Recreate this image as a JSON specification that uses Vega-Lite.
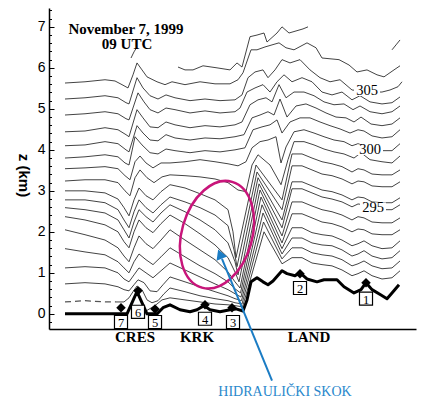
{
"$schema": "https://vega.github.io/schema/vega-lite/v6.json",
"width": 367, "height": 321,
"autosize": "none",
"padding": {"left": 49, "top": 8, "right": 32, "bottom": 70},
"background": "white",
"config": {"view": {"stroke": null}},
"datasets": {
"isen": [
{"id":"F1","x":82,"z":6.24},{"id":"F1","x":85,"z":6.39},{"id":"F1","x":88,"z":6.51},
{"id":"F2","x":343,"z":6.44},{"id":"F2","x":347,"z":6.56},{"id":"F2","x":351,"z":6.68},
{"id":"T0","x":129,"z":6.02},{"id":"T0","x":136,"z":5.95},{"id":"T0","x":144,"z":5.95},{"id":"T0","x":154,"z":6.05},{"id":"T0","x":168,"z":6.00},{"id":"T0","x":181,"z":5.95},{"id":"T0","x":188,"z":6.12},{"id":"T0","x":193,"z":6.02},{"id":"T0","x":201,"z":6.76},{"id":"T0","x":208,"z":6.80},{"id":"T0","x":215,"z":6.85},{"id":"T0","x":218,"z":6.63},{"id":"T0","x":228,"z":6.85},{"id":"T0","x":233,"z":7.00},{"id":"T0","x":240,"z":6.85},{"id":"T0","x":247,"z":6.90},{"id":"T0","x":254,"z":6.95},{"id":"T0","x":259,"z":7.00},
{"id":"L1","x":16,"z":5.63},{"id":"L1","x":36,"z":5.66},{"id":"L1","x":56,"z":5.71},{"id":"L1","x":66,"z":5.68},{"id":"L1","x":73,"z":5.59},{"id":"L1","x":79,"z":5.51},{"id":"L1","x":84,"z":5.83},{"id":"L1","x":88,"z":6.12},{"id":"L1","x":93,"z":5.95},{"id":"L1","x":98,"z":5.78},{"id":"L1","x":108,"z":5.66},{"id":"L1","x":116,"z":5.59},{"id":"L1","x":123,"z":5.66},{"id":"L1","x":136,"z":5.59},{"id":"L1","x":151,"z":5.66},{"id":"L1","x":166,"z":5.61},{"id":"L1","x":181,"z":5.61},{"id":"L1","x":189,"z":5.71},{"id":"L1","x":194,"z":5.88},{"id":"L1","x":202,"z":6.44},{"id":"L1","x":208,"z":6.44},{"id":"L1","x":216,"z":6.51},{"id":"L1","x":223,"z":6.56},{"id":"L1","x":230,"z":6.61},{"id":"L1","x":237,"z":6.49},{"id":"L1","x":245,"z":6.44},{"id":"L1","x":258,"z":6.61},{"id":"L1","x":267,"z":6.49},{"id":"L1","x":273,"z":6.24},{"id":"L1","x":290,"z":6.20},{"id":"L1","x":300,"z":6.07},{"id":"L1","x":308,"z":5.90},{"id":"L1","x":318,"z":5.95},{"id":"L1","x":328,"z":5.83},{"id":"L1","x":335,"z":5.78},{"id":"L1","x":345,"z":5.95},{"id":"L1","x":351,"z":6.05},
{"id":"L2","x":16,"z":5.24},{"id":"L2","x":36,"z":5.27},{"id":"L2","x":56,"z":5.32},{"id":"L2","x":69,"z":5.27},{"id":"L2","x":77,"z":5.15},{"id":"L2","x":80,"z":5.12},{"id":"L2","x":88,"z":5.76},{"id":"L2","x":94,"z":5.51},{"id":"L2","x":101,"z":5.32},{"id":"L2","x":109,"z":5.24},{"id":"L2","x":117,"z":5.34},{"id":"L2","x":126,"z":5.27},{"id":"L2","x":141,"z":5.20},{"id":"L2","x":156,"z":5.24},{"id":"L2","x":171,"z":5.20},{"id":"L2","x":186,"z":5.22},{"id":"L2","x":193,"z":5.34},{"id":"L2","x":199,"z":5.76},{"id":"L2","x":206,"z":5.90},{"id":"L2","x":214,"z":5.95},{"id":"L2","x":219,"z":5.76},{"id":"L2","x":226,"z":5.95},{"id":"L2","x":233,"z":6.20},{"id":"L2","x":241,"z":6.12},{"id":"L2","x":251,"z":6.20},{"id":"L2","x":261,"z":5.95},{"id":"L2","x":271,"z":5.76},{"id":"L2","x":281,"z":5.66},{"id":"L2","x":291,"z":5.71},{"id":"L2","x":303,"z":5.46},{"id":"L2","x":311,"z":5.44},{"id":"L2","x":323,"z":5.41},{"id":"L2","x":333,"z":5.41},{"id":"L2","x":341,"z":5.46},{"id":"L2","x":349,"z":5.54},{"id":"L2","x":353,"z":5.66},
{"id":"L3","x":16,"z":4.85},{"id":"L3","x":36,"z":4.88},{"id":"L3","x":56,"z":4.93},{"id":"L3","x":69,"z":4.88},{"id":"L3","x":77,"z":4.76},{"id":"L3","x":80,"z":4.73},{"id":"L3","x":89,"z":5.39},{"id":"L3","x":95,"z":5.17},{"id":"L3","x":101,"z":4.98},{"id":"L3","x":109,"z":4.90},{"id":"L3","x":117,"z":5.02},{"id":"L3","x":126,"z":4.98},{"id":"L3","x":141,"z":4.90},{"id":"L3","x":156,"z":4.95},{"id":"L3","x":171,"z":4.90},{"id":"L3","x":186,"z":4.93},{"id":"L3","x":191,"z":5.02},{"id":"L3","x":198,"z":5.41},{"id":"L3","x":206,"z":5.51},{"id":"L3","x":214,"z":5.59},{"id":"L3","x":221,"z":5.41},{"id":"L3","x":228,"z":5.66},{"id":"L3","x":235,"z":5.83},{"id":"L3","x":243,"z":5.66},{"id":"L3","x":253,"z":5.76},{"id":"L3","x":263,"z":5.66},{"id":"L3","x":273,"z":5.41},{"id":"L3","x":283,"z":5.34},{"id":"L3","x":293,"z":5.41},{"id":"L3","x":303,"z":5.22},{"id":"L3","x":311,"z":5.32},{"id":"L3","x":321,"z":5.17},{"id":"L3","x":333,"z":5.12},{"id":"L3","x":343,"z":5.15},{"id":"L3","x":351,"z":5.29},
{"id":"L4","x":16,"z":4.44},{"id":"L4","x":36,"z":4.46},{"id":"L4","x":56,"z":4.54},{"id":"L4","x":69,"z":4.49},{"id":"L4","x":77,"z":4.37},{"id":"L4","x":80,"z":4.32},{"id":"L4","x":88,"z":4.98},{"id":"L4","x":94,"z":4.78},{"id":"L4","x":101,"z":4.56},{"id":"L4","x":109,"z":4.54},{"id":"L4","x":117,"z":4.68},{"id":"L4","x":126,"z":4.61},{"id":"L4","x":141,"z":4.54},{"id":"L4","x":156,"z":4.59},{"id":"L4","x":171,"z":4.56},{"id":"L4","x":186,"z":4.61},{"id":"L4","x":193,"z":4.68},{"id":"L4","x":201,"z":5.10},{"id":"L4","x":209,"z":5.22},{"id":"L4","x":217,"z":5.27},{"id":"L4","x":223,"z":5.17},{"id":"L4","x":230,"z":5.59},{"id":"L4","x":237,"z":5.27},{"id":"L4","x":245,"z":5.41},{"id":"L4","x":255,"z":5.41},{"id":"L4","x":265,"z":5.32},{"id":"L4","x":275,"z":5.17},{"id":"L4","x":285,"z":5.10},{"id":"L4","x":295,"z":5.12},{"id":"L4","x":304,"z":4.98},{"id":"L4","x":311,"z":5.07},{"id":"L4","x":321,"z":4.93},{"id":"L4","x":333,"z":4.88},{"id":"L4","x":343,"z":4.93},{"id":"L4","x":351,"z":5.07},
{"id":"L5","x":16,"z":4.10},{"id":"L5","x":36,"z":4.12},{"id":"L5","x":56,"z":4.20},{"id":"L5","x":69,"z":4.15},{"id":"L5","x":77,"z":4.00},{"id":"L5","x":80,"z":3.95},{"id":"L5","x":88,"z":4.59},{"id":"L5","x":94,"z":4.41},{"id":"L5","x":101,"z":4.24},{"id":"L5","x":109,"z":4.22},{"id":"L5","x":117,"z":4.37},{"id":"L5","x":126,"z":4.29},{"id":"L5","x":141,"z":4.24},{"id":"L5","x":156,"z":4.29},{"id":"L5","x":171,"z":4.27},{"id":"L5","x":186,"z":4.32},{"id":"L5","x":195,"z":4.37},{"id":"L5","x":203,"z":4.78},{"id":"L5","x":211,"z":4.85},{"id":"L5","x":219,"z":4.93},{"id":"L5","x":225,"z":4.85},{"id":"L5","x":231,"z":5.24},{"id":"L5","x":238,"z":4.80},{"id":"L5","x":247,"z":5.07},{"id":"L5","x":257,"z":5.12},{"id":"L5","x":267,"z":5.02},{"id":"L5","x":277,"z":4.90},{"id":"L5","x":287,"z":4.80},{"id":"L5","x":297,"z":4.78},{"id":"L5","x":305,"z":4.68},{"id":"L5","x":312,"z":4.80},{"id":"L5","x":322,"z":4.63},{"id":"L5","x":333,"z":4.59},{"id":"L5","x":343,"z":4.63},{"id":"L5","x":351,"z":4.78},
{"id":"L6","x":16,"z":3.80},{"id":"L6","x":36,"z":3.83},{"id":"L6","x":56,"z":3.88},{"id":"L6","x":69,"z":3.83},{"id":"L6","x":76,"z":3.68},{"id":"L6","x":80,"z":3.63},{"id":"L6","x":86,"z":4.32},{"id":"L6","x":93,"z":4.12},{"id":"L6","x":101,"z":3.93},{"id":"L6","x":109,"z":3.90},{"id":"L6","x":117,"z":4.02},{"id":"L6","x":126,"z":3.98},{"id":"L6","x":141,"z":3.93},{"id":"L6","x":156,"z":3.98},{"id":"L6","x":171,"z":3.95},{"id":"L6","x":186,"z":4.00},{"id":"L6","x":196,"z":4.05},{"id":"L6","x":204,"z":4.49},{"id":"L6","x":213,"z":4.56},{"id":"L6","x":221,"z":4.61},{"id":"L6","x":228,"z":4.73},{"id":"L6","x":233,"z":4.41},{"id":"L6","x":241,"z":4.68},{"id":"L6","x":251,"z":4.78},{"id":"L6","x":261,"z":4.78},{"id":"L6","x":271,"z":4.68},{"id":"L6","x":281,"z":4.59},{"id":"L6","x":291,"z":4.51},{"id":"L6","x":301,"z":4.41},{"id":"L6","x":309,"z":4.49},{"id":"L6","x":315,"z":4.46},{"id":"L6","x":323,"z":4.34},{"id":"L6","x":333,"z":4.29},{"id":"L6","x":343,"z":4.32},{"id":"L6","x":351,"z":4.49},
{"id":"L7","x":16,"z":3.54},{"id":"L7","x":36,"z":3.56},{"id":"L7","x":56,"z":3.59},{"id":"L7","x":69,"z":3.54},{"id":"L7","x":76,"z":3.37},{"id":"L7","x":81,"z":3.27},{"id":"L7","x":86,"z":3.71},{"id":"L7","x":91,"z":3.85},{"id":"L7","x":97,"z":3.68},{"id":"L7","x":104,"z":3.56},{"id":"L7","x":112,"z":3.68},{"id":"L7","x":121,"z":3.68},{"id":"L7","x":136,"z":3.71},{"id":"L7","x":151,"z":3.76},{"id":"L7","x":166,"z":3.71},{"id":"L7","x":179,"z":3.66},{"id":"L7","x":189,"z":3.61},{"id":"L7","x":197,"z":3.71},{"id":"L7","x":203,"z":4.05},{"id":"L7","x":211,"z":4.20},{"id":"L7","x":219,"z":4.24},{"id":"L7","x":227,"z":4.32},{"id":"L7","x":232,"z":3.68},{"id":"L7","x":237,"z":4.07},{"id":"L7","x":245,"z":4.44},{"id":"L7","x":255,"z":4.49},{"id":"L7","x":265,"z":4.41},{"id":"L7","x":275,"z":4.32},{"id":"L7","x":285,"z":4.24},{"id":"L7","x":295,"z":4.20},{"id":"L7","x":303,"z":4.10},{"id":"L7","x":309,"z":4.15},{"id":"L7","x":315,"z":4.10},{"id":"L7","x":323,"z":4.00},{"id":"L7","x":333,"z":3.98},{"id":"L7","x":343,"z":3.98},{"id":"L7","x":351,"z":4.15},
{"id":"L8","x":16,"z":3.24},{"id":"L8","x":36,"z":3.27},{"id":"L8","x":56,"z":3.27},{"id":"L8","x":69,"z":3.20},{"id":"L8","x":76,"z":3.00},{"id":"L8","x":81,"z":2.88},{"id":"L8","x":86,"z":3.32},{"id":"L8","x":91,"z":3.51},{"id":"L8","x":98,"z":3.32},{"id":"L8","x":105,"z":3.20},{"id":"L8","x":113,"z":3.34},{"id":"L8","x":121,"z":3.39},{"id":"L8","x":136,"z":3.37},{"id":"L8","x":151,"z":3.34},{"id":"L8","x":166,"z":3.29},{"id":"L8","x":179,"z":3.20},{"id":"L8","x":189,"z":3.02},{"id":"L8","x":197,"z":2.98},{"id":"L8","x":203,"z":3.63},{"id":"L8","x":209,"z":3.88},{"id":"L8","x":221,"z":3.63},{"id":"L8","x":232,"z":3.15},{"id":"L8","x":239,"z":3.76},{"id":"L8","x":245,"z":4.20},{"id":"L8","x":255,"z":4.20},{"id":"L8","x":265,"z":4.12},{"id":"L8","x":275,"z":4.02},{"id":"L8","x":285,"z":3.95},{"id":"L8","x":295,"z":3.90},{"id":"L8","x":305,"z":3.80},{"id":"L8","x":312,"z":3.93},{"id":"L8","x":321,"z":3.76},{"id":"L8","x":333,"z":3.71},{"id":"L8","x":343,"z":3.68},{"id":"L8","x":351,"z":3.85},
{"id":"L9","x":16,"z":3.00},{"id":"L9","x":36,"z":3.00},{"id":"L9","x":56,"z":2.95},{"id":"L9","x":69,"z":2.80},{"id":"L9","x":75,"z":2.59},{"id":"L9","x":80,"z":2.39},{"id":"L9","x":85,"z":2.78},{"id":"L9","x":90,"z":3.07},{"id":"L9","x":97,"z":2.88},{"id":"L9","x":104,"z":2.78},{"id":"L9","x":112,"z":2.98},{"id":"L9","x":121,"z":3.15},{"id":"L9","x":136,"z":3.07},{"id":"L9","x":151,"z":2.93},{"id":"L9","x":166,"z":2.78},{"id":"L9","x":179,"z":2.54},{"id":"L9","x":184,"z":2.00},{"id":"L9","x":187,"z":1.37},{"id":"L9","x":207,"z":3.63},{"id":"L9","x":233,"z":2.78},{"id":"L9","x":243,"z":3.90},{"id":"L9","x":253,"z":3.90},{"id":"L9","x":263,"z":3.80},{"id":"L9","x":273,"z":3.71},{"id":"L9","x":283,"z":3.66},{"id":"L9","x":293,"z":3.59},{"id":"L9","x":303,"z":3.46},{"id":"L9","x":309,"z":3.54},{"id":"L9","x":315,"z":3.51},{"id":"L9","x":323,"z":3.41},{"id":"L9","x":333,"z":3.39},{"id":"L9","x":343,"z":3.39},{"id":"L9","x":351,"z":3.51},
{"id":"L10","x":16,"z":2.78},{"id":"L10","x":36,"z":2.78},{"id":"L10","x":56,"z":2.71},{"id":"L10","x":69,"z":2.54},{"id":"L10","x":75,"z":2.29},{"id":"L10","x":80,"z":2.10},{"id":"L10","x":85,"z":2.49},{"id":"L10","x":90,"z":2.78},{"id":"L10","x":97,"z":2.59},{"id":"L10","x":104,"z":2.46},{"id":"L10","x":112,"z":2.66},{"id":"L10","x":121,"z":2.85},{"id":"L10","x":136,"z":2.73},{"id":"L10","x":151,"z":2.59},{"id":"L10","x":166,"z":2.41},{"id":"L10","x":179,"z":2.15},{"id":"L10","x":185,"z":1.56},{"id":"L10","x":188,"z":1.15},{"id":"L10","x":208,"z":3.46},{"id":"L10","x":233,"z":2.54},{"id":"L10","x":243,"z":3.61},{"id":"L10","x":253,"z":3.61},{"id":"L10","x":263,"z":3.51},{"id":"L10","x":273,"z":3.41},{"id":"L10","x":283,"z":3.37},{"id":"L10","x":293,"z":3.29},{"id":"L10","x":303,"z":3.17},{"id":"L10","x":309,"z":3.24},{"id":"L10","x":315,"z":3.22},{"id":"L10","x":323,"z":3.12},{"id":"L10","x":333,"z":3.10},{"id":"L10","x":343,"z":3.10},{"id":"L10","x":351,"z":3.22},
{"id":"L11","x":16,"z":2.59},{"id":"L11","x":36,"z":2.54},{"id":"L11","x":56,"z":2.46},{"id":"L11","x":69,"z":2.29},{"id":"L11","x":75,"z":2.05},{"id":"L11","x":80,"z":1.85},{"id":"L11","x":85,"z":2.24},{"id":"L11","x":90,"z":2.54},{"id":"L11","x":97,"z":2.37},{"id":"L11","x":104,"z":2.24},{"id":"L11","x":112,"z":2.46},{"id":"L11","x":121,"z":2.66},{"id":"L11","x":136,"z":2.49},{"id":"L11","x":151,"z":2.29},{"id":"L11","x":166,"z":2.05},{"id":"L11","x":179,"z":1.73},{"id":"L11","x":186,"z":1.27},{"id":"L11","x":189,"z":0.95},{"id":"L11","x":209,"z":3.32},{"id":"L11","x":233,"z":2.29},{"id":"L11","x":243,"z":3.22},{"id":"L11","x":253,"z":3.22},{"id":"L11","x":263,"z":3.12},{"id":"L11","x":273,"z":3.02},{"id":"L11","x":283,"z":2.98},{"id":"L11","x":293,"z":2.90},{"id":"L11","x":303,"z":2.78},{"id":"L11","x":309,"z":2.85},{"id":"L11","x":315,"z":2.83},{"id":"L11","x":323,"z":2.73},{"id":"L11","x":333,"z":2.71},{"id":"L11","x":343,"z":2.71},{"id":"L11","x":351,"z":2.83},
{"id":"L12","x":16,"z":2.37},{"id":"L12","x":36,"z":2.29},{"id":"L12","x":56,"z":2.17},{"id":"L12","x":69,"z":2.00},{"id":"L12","x":75,"z":1.76},{"id":"L12","x":80,"z":1.61},{"id":"L12","x":85,"z":2.00},{"id":"L12","x":90,"z":2.29},{"id":"L12","x":97,"z":2.10},{"id":"L12","x":104,"z":1.98},{"id":"L12","x":112,"z":2.20},{"id":"L12","x":121,"z":2.41},{"id":"L12","x":136,"z":2.20},{"id":"L12","x":151,"z":1.95},{"id":"L12","x":166,"z":1.68},{"id":"L12","x":179,"z":1.37},{"id":"L12","x":186,"z":1.02},{"id":"L12","x":190,"z":0.78},{"id":"L12","x":210,"z":3.17},{"id":"L12","x":233,"z":2.10},{"id":"L12","x":243,"z":3.05},{"id":"L12","x":253,"z":3.05},{"id":"L12","x":263,"z":2.95},{"id":"L12","x":273,"z":2.85},{"id":"L12","x":283,"z":2.80},{"id":"L12","x":293,"z":2.73},{"id":"L12","x":303,"z":2.61},{"id":"L12","x":309,"z":2.68},{"id":"L12","x":315,"z":2.66},{"id":"L12","x":323,"z":2.56},{"id":"L12","x":333,"z":2.54},{"id":"L12","x":343,"z":2.54},{"id":"L12","x":351,"z":2.66},
{"id":"L13","x":16,"z":2.05},{"id":"L13","x":36,"z":1.93},{"id":"L13","x":56,"z":1.80},{"id":"L13","x":69,"z":1.61},{"id":"L13","x":75,"z":1.41},{"id":"L13","x":80,"z":1.27},{"id":"L13","x":85,"z":1.61},{"id":"L13","x":90,"z":1.90},{"id":"L13","x":97,"z":1.71},{"id":"L13","x":104,"z":1.59},{"id":"L13","x":112,"z":1.80},{"id":"L13","x":121,"z":2.05},{"id":"L13","x":136,"z":1.80},{"id":"L13","x":151,"z":1.56},{"id":"L13","x":166,"z":1.32},{"id":"L13","x":179,"z":1.02},{"id":"L13","x":186,"z":0.78},{"id":"L13","x":191,"z":0.63},{"id":"L13","x":211,"z":3.02},{"id":"L13","x":233,"z":1.90},{"id":"L13","x":243,"z":2.73},{"id":"L13","x":253,"z":2.73},{"id":"L13","x":263,"z":2.63},{"id":"L13","x":273,"z":2.54},{"id":"L13","x":283,"z":2.49},{"id":"L13","x":293,"z":2.41},{"id":"L13","x":303,"z":2.29},{"id":"L13","x":309,"z":2.37},{"id":"L13","x":315,"z":2.34},{"id":"L13","x":323,"z":2.24},{"id":"L13","x":333,"z":2.22},{"id":"L13","x":343,"z":2.22},{"id":"L13","x":351,"z":2.34},
{"id":"L14","x":16,"z":1.59},{"id":"L14","x":36,"z":1.51},{"id":"L14","x":56,"z":1.44},{"id":"L14","x":69,"z":1.27},{"id":"L14","x":75,"z":1.12},{"id":"L14","x":80,"z":1.00},{"id":"L14","x":85,"z":1.27},{"id":"L14","x":90,"z":1.46},{"id":"L14","x":97,"z":1.32},{"id":"L14","x":104,"z":1.20},{"id":"L14","x":112,"z":1.39},{"id":"L14","x":121,"z":1.61},{"id":"L14","x":136,"z":1.39},{"id":"L14","x":151,"z":1.17},{"id":"L14","x":166,"z":0.98},{"id":"L14","x":179,"z":0.78},{"id":"L14","x":186,"z":0.61},{"id":"L14","x":191.5,"z":0.51},{"id":"L14","x":212,"z":2.85},{"id":"L14","x":233,"z":1.73},{"id":"L14","x":243,"z":2.44},{"id":"L14","x":253,"z":2.44},{"id":"L14","x":263,"z":2.34},{"id":"L14","x":273,"z":2.24},{"id":"L14","x":283,"z":2.20},{"id":"L14","x":293,"z":2.12},{"id":"L14","x":303,"z":2.00},{"id":"L14","x":309,"z":2.07},{"id":"L14","x":315,"z":2.05},{"id":"L14","x":323,"z":1.95},{"id":"L14","x":333,"z":1.93},{"id":"L14","x":343,"z":1.93},{"id":"L14","x":351,"z":2.05},
{"id":"L15","x":16,"z":1.12},{"id":"L15","x":36,"z":1.15},{"id":"L15","x":56,"z":1.12},{"id":"L15","x":69,"z":1.00},{"id":"L15","x":75,"z":0.85},{"id":"L15","x":80,"z":0.78},{"id":"L15","x":85,"z":0.95},{"id":"L15","x":90,"z":1.12},{"id":"L15","x":97,"z":1.00},{"id":"L15","x":104,"z":0.88},{"id":"L15","x":112,"z":1.05},{"id":"L15","x":121,"z":1.24},{"id":"L15","x":136,"z":1.07},{"id":"L15","x":151,"z":0.90},{"id":"L15","x":166,"z":0.73},{"id":"L15","x":179,"z":0.59},{"id":"L15","x":186,"z":0.49},{"id":"L15","x":192,"z":0.41},{"id":"L15","x":213,"z":2.66},{"id":"L15","x":233,"z":1.59},{"id":"L15","x":243,"z":2.10},{"id":"L15","x":253,"z":2.10},{"id":"L15","x":263,"z":1.98},{"id":"L15","x":273,"z":1.93},{"id":"L15","x":283,"z":1.90},{"id":"L15","x":293,"z":1.80},{"id":"L15","x":303,"z":1.66},{"id":"L15","x":309,"z":1.71},{"id":"L15","x":315,"z":1.78},{"id":"L15","x":323,"z":1.66},{"id":"L15","x":333,"z":1.59},{"id":"L15","x":343,"z":1.61},{"id":"L15","x":351,"z":1.78},
{"id":"L16","x":16,"z":0.73},{"id":"L16","x":36,"z":0.76},{"id":"L16","x":56,"z":0.73},{"id":"L16","x":69,"z":0.66},{"id":"L16","x":75,"z":0.59},{"id":"L16","x":80,"z":0.56},{"id":"L16","x":85,"z":0.71},{"id":"L16","x":89,"z":0.83},{"id":"L16","x":95,"z":0.76},{"id":"L16","x":101,"z":0.56},{"id":"L16","x":108,"z":0.54},{"id":"L16","x":114,"z":0.71},{"id":"L16","x":121,"z":0.90},{"id":"L16","x":136,"z":0.78},{"id":"L16","x":151,"z":0.66},{"id":"L16","x":166,"z":0.54},{"id":"L16","x":179,"z":0.44},{"id":"L16","x":186,"z":0.37},{"id":"L16","x":192.5,"z":0.32},{"id":"L16","x":214,"z":2.46},{"id":"L16","x":233,"z":1.46},{"id":"L16","x":243,"z":1.85},{"id":"L16","x":253,"z":1.85},{"id":"L16","x":263,"z":1.73},{"id":"L16","x":273,"z":1.68},{"id":"L16","x":283,"z":1.66},{"id":"L16","x":293,"z":1.56},{"id":"L16","x":303,"z":1.41},{"id":"L16","x":309,"z":1.46},{"id":"L16","x":315,"z":1.54},{"id":"L16","x":323,"z":1.41},{"id":"L16","x":333,"z":1.34},{"id":"L16","x":343,"z":1.37},{"id":"L16","x":351,"z":1.54},
{"id":"L17","x":67,"z":0.29},{"id":"L17","x":75,"z":0.29},{"id":"L17","x":80,"z":0.39},{"id":"L17","x":84,"z":0.54},{"id":"L17","x":88,"z":0.68},{"id":"L17","x":93,"z":0.59},{"id":"L17","x":98,"z":0.34},{"id":"L17","x":103,"z":0.27},{"id":"L17","x":109,"z":0.32},{"id":"L17","x":115,"z":0.49},{"id":"L17","x":121,"z":0.63},{"id":"L17","x":136,"z":0.54},{"id":"L17","x":151,"z":0.44},{"id":"L17","x":166,"z":0.37},{"id":"L17","x":179,"z":0.32},{"id":"L17","x":186,"z":0.27},{"id":"L17","x":193,"z":0.24},{"id":"L17","x":214.5,"z":2.24},{"id":"L17","x":233,"z":1.34},{"id":"L17","x":243,"z":1.61},{"id":"L17","x":253,"z":1.61},{"id":"L17","x":263,"z":1.49},{"id":"L17","x":273,"z":1.44},{"id":"L17","x":283,"z":1.41},{"id":"L17","x":293,"z":1.32},{"id":"L17","x":303,"z":1.17},{"id":"L17","x":309,"z":1.22},{"id":"L17","x":315,"z":1.29},{"id":"L17","x":323,"z":1.17},{"id":"L17","x":333,"z":1.10},{"id":"L17","x":343,"z":1.12},{"id":"L17","x":351,"z":1.29},
{"id":"E1","x":97,"z":0.07},{"id":"E1","x":106,"z":0.20},{"id":"E1","x":113,"z":0.34},{"id":"E1","x":121,"z":0.39},{"id":"E1","x":136,"z":0.34},{"id":"E1","x":151,"z":0.29},{"id":"E1","x":166,"z":0.24},{"id":"E1","x":179,"z":0.22},{"id":"E1","x":186,"z":0.20},{"id":"E1","x":193.5,"z":0.17},{"id":"E1","x":215,"z":2.00},{"id":"E1","x":233,"z":1.22},{"id":"E1","x":243,"z":1.37},{"id":"E1","x":253,"z":1.37},{"id":"E1","x":263,"z":1.24},{"id":"E1","x":273,"z":1.20},{"id":"E1","x":283,"z":1.17},{"id":"E1","x":293,"z":1.07},{"id":"E1","x":303,"z":0.93},{"id":"E1","x":309,"z":0.98},{"id":"E1","x":315,"z":1.05},{"id":"E1","x":323,"z":0.93},{"id":"E1","x":333,"z":0.85},{"id":"E1","x":343,"z":0.88},{"id":"E1","x":351,"z":1.05}
],
"isen_dashed": [{"x":16,"z":0.29},{"x":36,"z":0.32},{"x":56,"z":0.29},{"x":67,"z":0.29}],
"terrain": [
{"x":16,"z":0},{"x":78,"z":0},{"x":88,"z":0.54},{"x":98,"z":0},{"x":108,"z":0},{"x":114,"z":0.15},{"x":121,"z":0.22},{"x":131,"z":0.10},{"x":141,"z":0.05},{"x":148,"z":0.10},{"x":155,"z":0.20},{"x":161,"z":0.10},{"x":171,"z":0.05},{"x":181,"z":0.10},{"x":187,"z":0.12},{"x":194,"z":0.07},{"x":198,"z":0.34},{"x":202,"z":0.78},{"x":208,"z":0.88},{"x":214,"z":0.78},{"x":219,"z":0.71},{"x":224,"z":0.80},{"x":233,"z":1.05},{"x":238,"z":0.98},{"x":246,"z":0.93},{"x":251,"z":1.00},{"x":258,"z":0.85},{"x":268,"z":0.78},{"x":275,"z":0.83},{"x":288,"z":0.83},{"x":295,"z":0.66},{"x":305,"z":0.51},{"x":312,"z":0.59},{"x":317,"z":0.76},{"x":323,"z":0.59},{"x":332,"z":0.46},{"x":338,"z":0.37},{"x":343,"z":0.51},{"x":350,"z":0.71}
],
"theta": [{"x":318,"z":5.44,"label":"305"},{"x":321,"z":4.00,"label":"300"},{"x":324,"z":2.59,"label":"295"}],
"diamonds": [{"x":72,"z":0.15},{"x":89,"z":0.56},{"x":106,"z":0.12},{"x":156,"z":0.22},{"x":183,"z":0.15},{"x":251,"z":0.98},{"x":317,"z":0.76}],
"boxes": [{"x":72,"z":-0.20,"n":"7"},{"x":89,"z":0.05,"n":"6"},{"x":106,"z":-0.20,"n":"5"},{"x":156,"z":-0.12,"n":"4"},{"x":184,"z":-0.20,"n":"3"},{"x":251,"z":0.63,"n":"2"},{"x":317,"z":0.37,"n":"1"}],
"places": [{"x":86,"z":-0.56,"name":"CRES"},{"x":148,"z":-0.56,"name":"KRK"},{"x":260,"z":-0.56,"name":"LAND"}],
"heading": [{"x":77,"z":6.95,"t":"November 7, 1999"},{"x":78,"z":6.59,"t":"09 UTC"}],
"jump": [{"x":168,"z":1.93}],
"arrow": [{"x":223,"z":-1.63,"x2":173,"z2":1.34}],
"arrowhead": [{"x":171,"z":1.46}],
"note": [{"x":236,"z":-1.90,"t":"HIDRAULIČKI SKOK"}]
},
"encoding": {
"x": {"field": "x", "type": "quantitative", "scale": {"domain": [0, 367], "nice": false, "zero": false},
 "axis": {"title": null, "labels": false, "ticks": false, "grid": false, "domainColor": "black", "domainWidth": 1.5}},
"y": {"field": "z", "type": "quantitative", "scale": {"domain": [-0.37, 7.46], "nice": false, "zero": false},
 "axis": {"title": "z (km)", "grid": false,
  "values": [-0.2,0,0.2,0.4,0.6,0.8,1,1.2,1.4,1.6,1.8,2,2.2,2.4,2.6,2.8,3,3.2,3.4,3.6,3.8,4,4.2,4.4,4.6,4.8,5,5.2,5.4,5.6,5.8,6,6.2,6.4,6.6,6.8,7,7.2,7.4],
  "labelExpr": "abs(datum.value - round(datum.value)) < 0.01 ? format(datum.value, 'd') : ''",
  "labelOverlap": false,
  "tickSize": {"condition": {"test": "abs(datum.value - round(datum.value)) < 0.01", "value": -5}, "value": -2.5},
  "tickColor": "black", "tickWidth": 1,
  "domainColor": "black", "domainWidth": 1.5,
  "labelFont": "Liberation Sans", "labelFontSize": 14, "labelColor": "black", "labelPadding": 9,
  "titleFont": "Liberation Sans", "titleFontSize": 15, "titleFontWeight": "bold", "titleColor": "black",
  "titleAngle": 90, "titleX": -26, "titleY": 167, "titleAlign": "center", "titleBaseline": "middle"}}
},
"layer": [
{"data": {"name": "isen"}, "mark": {"type": "line", "stroke": "#2e2e2e", "strokeWidth": 0.9}, "encoding": {"detail": {"field": "id"}}},
{"data": {"name": "isen_dashed"}, "mark": {"type": "line", "stroke": "#555555", "strokeWidth": 1.2, "strokeDash": [6, 4]}, "encoding": {}},
{"data": {"name": "theta"}, "mark": {"type": "point", "shape": "M-1,-0.4L1,-0.4L1,0.4L-1,0.4Z", "size": 676, "filled": true, "fill": "white", "opacity": 1, "strokeWidth": 0}, "encoding": {}},
{"data": {"name": "theta"}, "mark": {"type": "text", "font": "Liberation Serif", "fontSize": 14.5, "fill": "black", "baseline": "middle"}, "encoding": {"text": {"field": "label"}}},
{"data": {"name": "terrain"}, "mark": {"type": "line", "stroke": "black", "strokeWidth": 3, "strokeJoin": "round"}, "encoding": {}},
{"data": {"name": "diamonds"}, "mark": {"type": "point", "shape": "diamond", "size": 90, "filled": true, "fill": "black", "opacity": 1}, "encoding": {}},
{"data": {"name": "boxes"}, "mark": {"type": "point", "shape": "square", "size": 170, "filled": true, "fill": "white", "stroke": "black", "strokeWidth": 1.2, "opacity": 1}, "encoding": {}},
{"data": {"name": "boxes"}, "mark": {"type": "text", "font": "Liberation Serif", "fontSize": 12.5, "fill": "black", "baseline": "middle", "dy": 1}, "encoding": {"text": {"field": "n"}}},
{"data": {"name": "places"}, "mark": {"type": "text", "font": "Liberation Serif", "fontSize": 15, "fontWeight": "bold", "fill": "black", "baseline": "middle"}, "encoding": {"text": {"field": "name"}}},
{"data": {"name": "heading"}, "mark": {"type": "text", "font": "Liberation Serif", "fontSize": 15, "fontWeight": "bold", "fill": "black", "baseline": "middle"}, "encoding": {"text": {"field": "t"}}},
{"data": {"name": "jump"}, "mark": {"type": "point", "shape": "M0,-1A0.64,1 0 1,1 0,1A0.64,1 0 1,1 0,-1Z", "size": 12100, "angle": 16, "filled": false, "stroke": "#c8157a", "strokeWidth": 2.5, "opacity": 1}, "encoding": {}},
{"data": {"name": "arrow"}, "mark": {"type": "rule", "stroke": "#1b7cc4", "strokeWidth": 2}, "encoding": {"x2": {"field": "x2"}, "y2": {"field": "z2"}}},
{"data": {"name": "arrowhead"}, "mark": {"type": "point", "shape": "triangle-up", "size": 130, "angle": -22, "filled": true, "fill": "#1b7cc4", "opacity": 1}, "encoding": {}},
{"data": {"name": "note"}, "mark": {"type": "text", "font": "Liberation Serif", "fontSize": 14, "fill": "#2a88cc", "baseline": "middle"}, "encoding": {"text": {"field": "t"}}}
]
}
